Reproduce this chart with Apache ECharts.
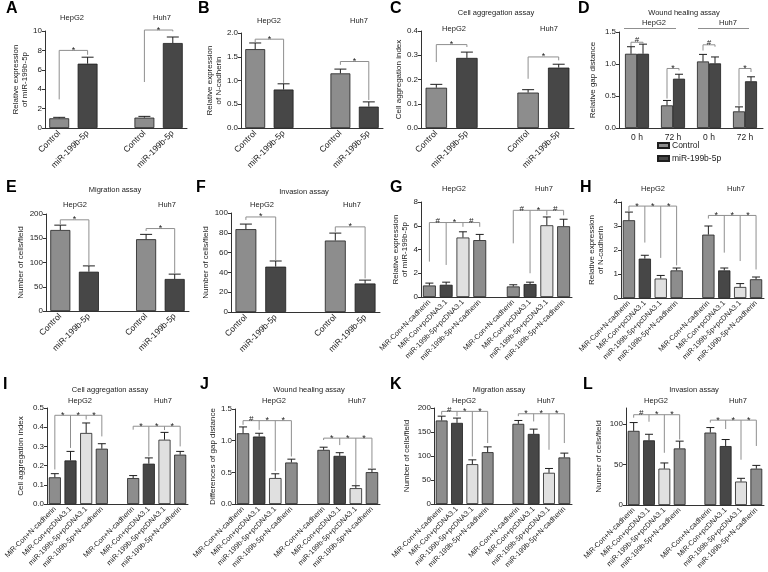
<!DOCTYPE html>
<html><head><meta charset="utf-8">
<script src="https://cdn.jsdelivr.net/npm/echarts@6/dist/echarts.min.js"></script>
<style>html,body{margin:0;padding:0;background:#fff}#c{width:768px;height:572px}</style>
</head><body><div id="c"></div>
<script>
// ---------- categories ----------
const catsPair = ['Control','miR-199b-5p','','Control','miR-199b-5p'];
const catsTime = ['0 h','72 h','0 h','72 h'];
const catsQuad = ['MiR-Con+N-cadherin','MiR-Con+pcDNA3.1','miR-199b-5p+pcDNA3.1','miR-199b-5p+N-cadherin','',
                  'MiR-Con+N-cadherin','MiR-Con+pcDNA3.1','miR-199b-5p+pcDNA3.1','miR-199b-5p+N-cadherin'];
const legendNames = ['Control','miR-199b-5p'];

// ---------- data (mean, sd, brackets: [level, bars, drops, symbols]) ----------
const A_mean = [1.0, 6.63, null, 1.07, 8.76];
const A_sd   = [0.10, 0.67, null, 0.13, 0.62];
const A_br   = [[8.0,[0,1],[2.95,7.55],['*']], [10.1,[3,4],[4.74,9.96],['*']]];

const B_mean = [1.66, 0.81, null, 1.15, 0.45];
const B_sd   = [0.13, 0.12, null, 0.09, 0.10];
const B_br   = [[1.87,[0,1],[1.80,0.95],['*']], [1.40,[3,4],[1.33,0.59],['*']]];

const C_mean = [0.166, 0.289, null, 0.146, 0.249];
const C_sd   = [0.014, 0.024, null, 0.012, 0.014];
const C_br   = [[0.344,[0,1],[0.272,0.334],['*']], [0.293,[3,4],[0.203,0.279],['*']]];

const D_ctrl   = [1.16, 0.354, 1.04, 0.26];
const D_ctrlSd = [0.11, 0.076, 0.11, 0.07];
const D_mir    = [1.16, 0.77, 1.01, 0.73];
const D_mirSd  = [0.15, 0.07, 0.10, 0.07];
const D_br = [[1.34,[[0,0],[0,1]],[1.28,1.32],['#']], [0.93,[[1,0],[1,1]],[0.46,0.90],['*']],
              [1.30,[[2,0],[2,1]],[1.21,1.27],['#']], [0.93,[[3,0],[3,1]],[0.35,0.875],['*']]];

const E_mean = [167, 81, null, 148, 66];
const E_sd   = [10, 12, null, 10, 10];
const E_br   = [[188,[0,1],[179,94],['*']], [170,[3,4],[165,77],['*']]];

const F_mean = [83.7, 45.8, null, 72.2, 28.8];
const F_sd   = [5.1, 5.7, null, 7.5, 3.4];
const F_br   = [[96,[0,1],[93,52],['*']], [86,[3,4],[81,34],['*']]];

const G_mean = [0.97, 1.03, 5.01, 4.79, null, 0.89, 1.09, 6.04, 5.96];
const G_sd   = [0.20, 0.22, 0.48, 0.48, null, 0.14, 0.16, 0.70, 0.59];
const G_br   = [[6.27,[0,1,2,3],[2.98,2.70,5.91,5.91],['#','*','#']],
                [7.30,[5,6,7,8],[4.52,2.0,6.88,6.88],['#','*','#']]];

const H_mean = [3.24, 1.64, 0.81, 1.15, null, 2.64, 1.15, 0.46, 0.78];
const H_sd   = [0.34, 0.14, 0.13, 0.10, null, 0.36, 0.10, 0.14, 0.095];
const H_br   = [[3.83,[0,1,2,3],[3.58,2.31,1.67,1.36],['*','*','*']],
                [3.44,[5,6,7,8],[3.31,1.89,1.54,1.19],['*','*','*']]];

const I_mean = [0.139, 0.227, 0.370, 0.288, null, 0.135, 0.210, 0.335, 0.257];
const I_sd   = [0.019, 0.047, 0.052, 0.026, null, 0.013, 0.030, 0.038, 0.017];
const I_br   = [[0.462,[0,1,2,3],[0.18,0.292,0.44,0.352],['*','*','*']],
                [0.405,[5,6,7,8],[0.387,0.248,0.385,0.30],['*','*','*']]];

const J_mean = [1.117, 1.065, 0.41, 0.655, null, 0.855, 0.76, 0.25, 0.503];
const J_sd   = [0.10, 0.052, 0.067, 0.053, null, 0.042, 0.05, 0.038, 0.047];
const J_br   = [[1.316,[0,1,2,3],[1.25,1.17,0.52,0.75],['#','*','*']],
                [1.04,[5,6,7,8],[1.01,0.93,0.30,0.566],['*','*','*']]];

const K_mean = [174, 169, 83, 108, null, 167, 146, 65, 97];
const K_sd   = [9, 10, 9, 11, null, 7, 10, 9, 9];
const K_br   = [[193,[0,1,2,3],[186,183,99,127],['#','*','*']],
                [188,[5,6,7,8],[183,172,113,127],['*','*','*']]];

const L_mean = [91.7, 80, 45, 70, null, 89.6, 72.9, 29, 45];
const L_sd   = [10.3, 7.5, 7, 9, null, 6.2, 8.1, 4, 4];
const L_br   = [[111.7,[0,1,2,3],[108,103,64.6,81],['#','*','*']],
                [105,[5,6,7,8],[102,94,56,73],['*','*','*']]];

// ---------- styles ----------
const FF = '"Liberation Sans", Arial, Helvetica, sans-serif';
const TX = '#222', AX = '#333', BR = '#8f8f8f';
const C_MID = '#8d8d8d', C_DARK = '#474747', C_LIGHT = '#e0e0e0';
const pairColors = [C_MID, C_DARK, null, C_MID, C_DARK];
const quadColors = [C_MID, C_DARK, C_LIGHT, C_MID, null, C_MID, C_DARK, C_LIGHT, C_MID];

const pairCfg = {rot:45, xf:8.5, bcg:'30%', cap:6};
const quadCfg = {rot:45, xf:7.3, bcg:'23%', cap:4};

const panels = [
  Object.assign({box:[45,31,142,97], cats:catsPair, y:[0,10,2,0], name:'Relative expression\nof miR-199b-5p', gap:14,
    groups:[{name:'A', mean:A_mean, sd:A_sd, colors:pairColors}], br:A_br}, pairCfg),
  Object.assign({box:[241,33,142,95], cats:catsPair, y:[0,2,0.5,1], name:'Relative expression\nof N-cadherin', gap:17,
    groups:[{name:'B', mean:B_mean, sd:B_sd, colors:pairColors}], br:B_br}, pairCfg),
  Object.assign({box:[421,31,153,97], cats:catsPair, y:[0,0.4,0.1,1], name:'Cell aggregation index', gap:15,
    groups:[{name:'C', mean:C_mean, sd:C_sd, colors:pairColors}], br:C_br}, pairCfg),
  {box:[619,32,144,96], cats:catsTime, y:[0,1.5,0.5,1], name:'Relative gap distance', gap:22, rot:0, xf:8.5, bw:12, cap:4,
    groups:[{name:legendNames[0], mean:D_ctrl, sd:D_ctrlSd, color:C_MID},{name:legendNames[1], mean:D_mir, sd:D_mirSd, color:C_DARK}], br:D_br},
  Object.assign({box:[46,214,143,97], cats:catsPair, y:[0,200,50,0], name:'Number of cells/field', gap:21,
    groups:[{name:'E', mean:E_mean, sd:E_sd, colors:pairColors}], br:E_br}, pairCfg),
  Object.assign({box:[231,213,149,99], cats:catsPair, y:[0,100,20,0], name:'Number of cells/field', gap:19,
    groups:[{name:'F', mean:F_mean, sd:F_sd, colors:pairColors}], br:F_br}, pairCfg),
  Object.assign({box:[421,202,151,95], cats:catsQuad, y:[0,8,2,0], name:'Relative expression\nof miR-199b-5p', gap:10,
    groups:[{name:'G', mean:G_mean, sd:G_sd, colors:quadColors}], br:G_br}, quadCfg),
  Object.assign({box:[621,202,143,96], cats:catsQuad, y:[0,4,1,0], name:'Relative expression\nof N-cadherin', gap:16,
    groups:[{name:'H', mean:H_mean, sd:H_sd, colors:quadColors}], br:H_br}, quadCfg),
  Object.assign({box:[47,408,141,96], cats:catsQuad, y:[0,0.5,0.1,1], name:'Cell aggregation index', gap:22,
    groups:[{name:'I', mean:I_mean, sd:I_sd, colors:quadColors}], br:I_br}, quadCfg),
  Object.assign({box:[235,409,145,95], cats:catsQuad, y:[0,1.5,0.5,1], name:'Differences of gap distance', gap:16,
    groups:[{name:'J', mean:J_mean, sd:J_sd, colors:quadColors}], br:J_br}, quadCfg),
  Object.assign({box:[434,408,138,96], cats:catsQuad, y:[0,200,50,0], name:'Number of cells/field', gap:23,
    groups:[{name:'K', mean:K_mean, sd:K_sd, colors:quadColors}], br:K_br}, quadCfg),
  Object.assign({box:[626,408,138,97], cats:catsQuad, y:[0,120,50,0], name:'Number of cells/field', gap:23, hideMax:true,
    groups:[{name:'L', mean:L_mean, sd:L_sd, colors:quadColors}], br:L_br}, quadCfg)
];

const letters = [['A',6,1],['B',198,1],['C',390,1],['D',578,1],['E',6,180],['F',196,180],['G',390,180],['H',580,180],
                 ['I',3,377],['J',200,377],['K',390,377],['L',583,377]];
const texts = [
  ['HepG2',72,18],['Huh7',162,18],
  ['HepG2',269,21],['Huh7',359,21],
  ['Cell aggregation assay',496,13],['HepG2',454,29],['Huh7',549,29],
  ['Wound healing assay',684,13],['HepG2',654,23],['Huh7',728,23],
  ['Migration assay',115,190],['HepG2',75,205],['Huh7',167,205],
  ['Invasion assay',304,192],['HepG2',262,205],['Huh7',352,205],
  ['HepG2',454,189],['Huh7',544,189],
  ['HepG2',653,189],['Huh7',736,189],
  ['Cell aggregation assay',110,390],['HepG2',80,401],['Huh7',163,401],
  ['Wound healing assay',309,390],['HepG2',274,401],['Huh7',357,401],
  ['Migration assay',499,390],['HepG2',464,401],['Huh7',546,401],
  ['Invasion assay',694,390],['HepG2',656,401],['Huh7',738,401]
];

const option = {
  animation:false, backgroundColor:'#fff',
  grid:[], xAxis:[], yAxis:[], series:[],
  legend:{data:legendNames, orient:'vertical', left:657, top:141, padding:0, itemWidth:11, itemHeight:5, itemGap:4, icon:'rect',
    textStyle:{fontSize:8.5, color:TX, fontFamily:FF, padding:[0,0,0,-2]}, selectedMode:false},
  graphic:[]
};

panels.forEach((p,k)=>{
  option.grid.push({left:p.box[0], top:p.box[1], width:p.box[2], height:p.box[3], outerBoundsMode:'none', containLabel:false});
  option.xAxis.push({type:'category', gridIndex:k, data:p.cats,
    axisLine:{lineStyle:{color:AX, width:1}}, axisTick:{show:false},
    axisLabel:{interval:0, rotate:p.rot, fontSize:p.xf, color:TX, fontFamily:FF, margin:p.rot? 4 : 5}});
  option.yAxis.push({type:'value', gridIndex:k, min:p.y[0], max:p.y[1], interval:p.y[2],
    name:p.name, nameLocation:'middle', nameGap:p.gap, nameRotate:90,
    nameTextStyle:{fontSize:8, color:TX, fontFamily:FF, lineHeight:9},
    axisLine:{show:true, lineStyle:{color:AX}}, axisTick:{show:true, length:3, lineStyle:{color:AX}},
    axisLabel:{fontSize:8, color:TX, fontFamily:FF, margin:3, showMaxLabel: !p.hideMax,
      formatter: v => (p.hideMax && v > 100) ? '' : v.toFixed(p.y[3])},
    splitLine:{show:false}});
  const n = p.groups.length;
  p.groups.forEach((g,s)=>{
    option.series.push({type:'bar', name:g.name, xAxisIndex:k, yAxisIndex:k, silent:true, z:2,
      barWidth:p.bw, barGap: n>1 ? '0%' : undefined, barCategoryGap:p.bcg,
      itemStyle:{color:g.color || C_MID, borderColor:'#1e1e1e', borderWidth:0.8},
      data:g.mean.map((v,i)=> v==null ? '-' : (g.colors ? {value:v, itemStyle:{color:g.colors[i]}} : v))});
    const off = n>1 ? (s-(n-1)/2)*p.bw : 0;
    option.series.push({type:'custom', xAxisIndex:k, yAxisIndex:k, silent:true, z:3,
      data:g.mean.map((v,i)=> v==null ? null : [i, v, g.sd[i]]).filter(d=>d),
      renderItem:(params, api)=>{
        const i = api.value(0), v = api.value(1), sd = api.value(2);
        const b = api.coord([i, v]), t = api.coord([i, v+sd]);
        const x = b[0] + off;
        return {type:'group', children:[
          {type:'line', shape:{x1:x, y1:b[1], x2:x, y2:t[1]}, style:{stroke:'#1e1e1e', lineWidth:1}},
          {type:'line', shape:{x1:x-p.cap, y1:t[1], x2:x+p.cap, y2:t[1]}, style:{stroke:'#1e1e1e', lineWidth:1}}
        ]};
      }});
  });
  option.series.push({type:'custom', xAxisIndex:k, yAxisIndex:k, silent:true, z:4,
    data:p.br.map(b=>[0, b[0]]),
    renderItem:(params, api)=>{
      const b = p.br[params.dataIndex];
      const xOf = r => Array.isArray(r) ? api.coord([r[0],0])[0] + (r[1]-0.5)*p.bw : api.coord([r,0])[0];
      const yOf = v => api.coord([0, v])[1];
      const xs = b[1].map(xOf), yl = yOf(b[0]);
      const ch = [{type:'line', shape:{x1:xs[0], y1:yl, x2:xs[xs.length-1], y2:yl}, style:{stroke:BR, lineWidth:1}}];
      xs.forEach((x,m)=> ch.push({type:'line', shape:{x1:x, y1:yl, x2:x, y2:yOf(b[2][m])}, style:{stroke:BR, lineWidth:1}}));
      b[3].forEach((sym,m)=> ch.push({type:'text', x:(xs[m]+xs[m+1])/2, y: yl + (sym==='#' ? -2 : 0),
        style:{text:sym, fontSize:sym==='#'?8:9, fontFamily:FF, fill:TX, align:'center', verticalAlign:'middle'}}));
      return {type:'group', children:ch};
    }});
});

letters.forEach(l=> option.graphic.push({type:'text', x:l[1], y:l[2], silent:true,
  style:{text:l[0], fontSize:16, fontWeight:'bold', fontFamily:FF, fill:'#000', align:'left', verticalAlign:'top'}}));
texts.forEach(t=> option.graphic.push({type:'text', x:t[1], y:t[2], silent:true,
  style:{text:t[0], fontSize:7.5, fontFamily:FF, fill:TX, align:'center', verticalAlign:'middle'}}));
// group underlines in panel D
[[624,676],[698,749]].forEach(s=> option.graphic.push({type:'line', silent:true,
  shape:{x1:s[0], y1:28.5, x2:s[1], y2:28.5}, style:{stroke:BR, lineWidth:1}}));

const chart = echarts.init(document.getElementById('c'), null, {renderer:'canvas'});
chart.setOption(option);
</script></body></html>
